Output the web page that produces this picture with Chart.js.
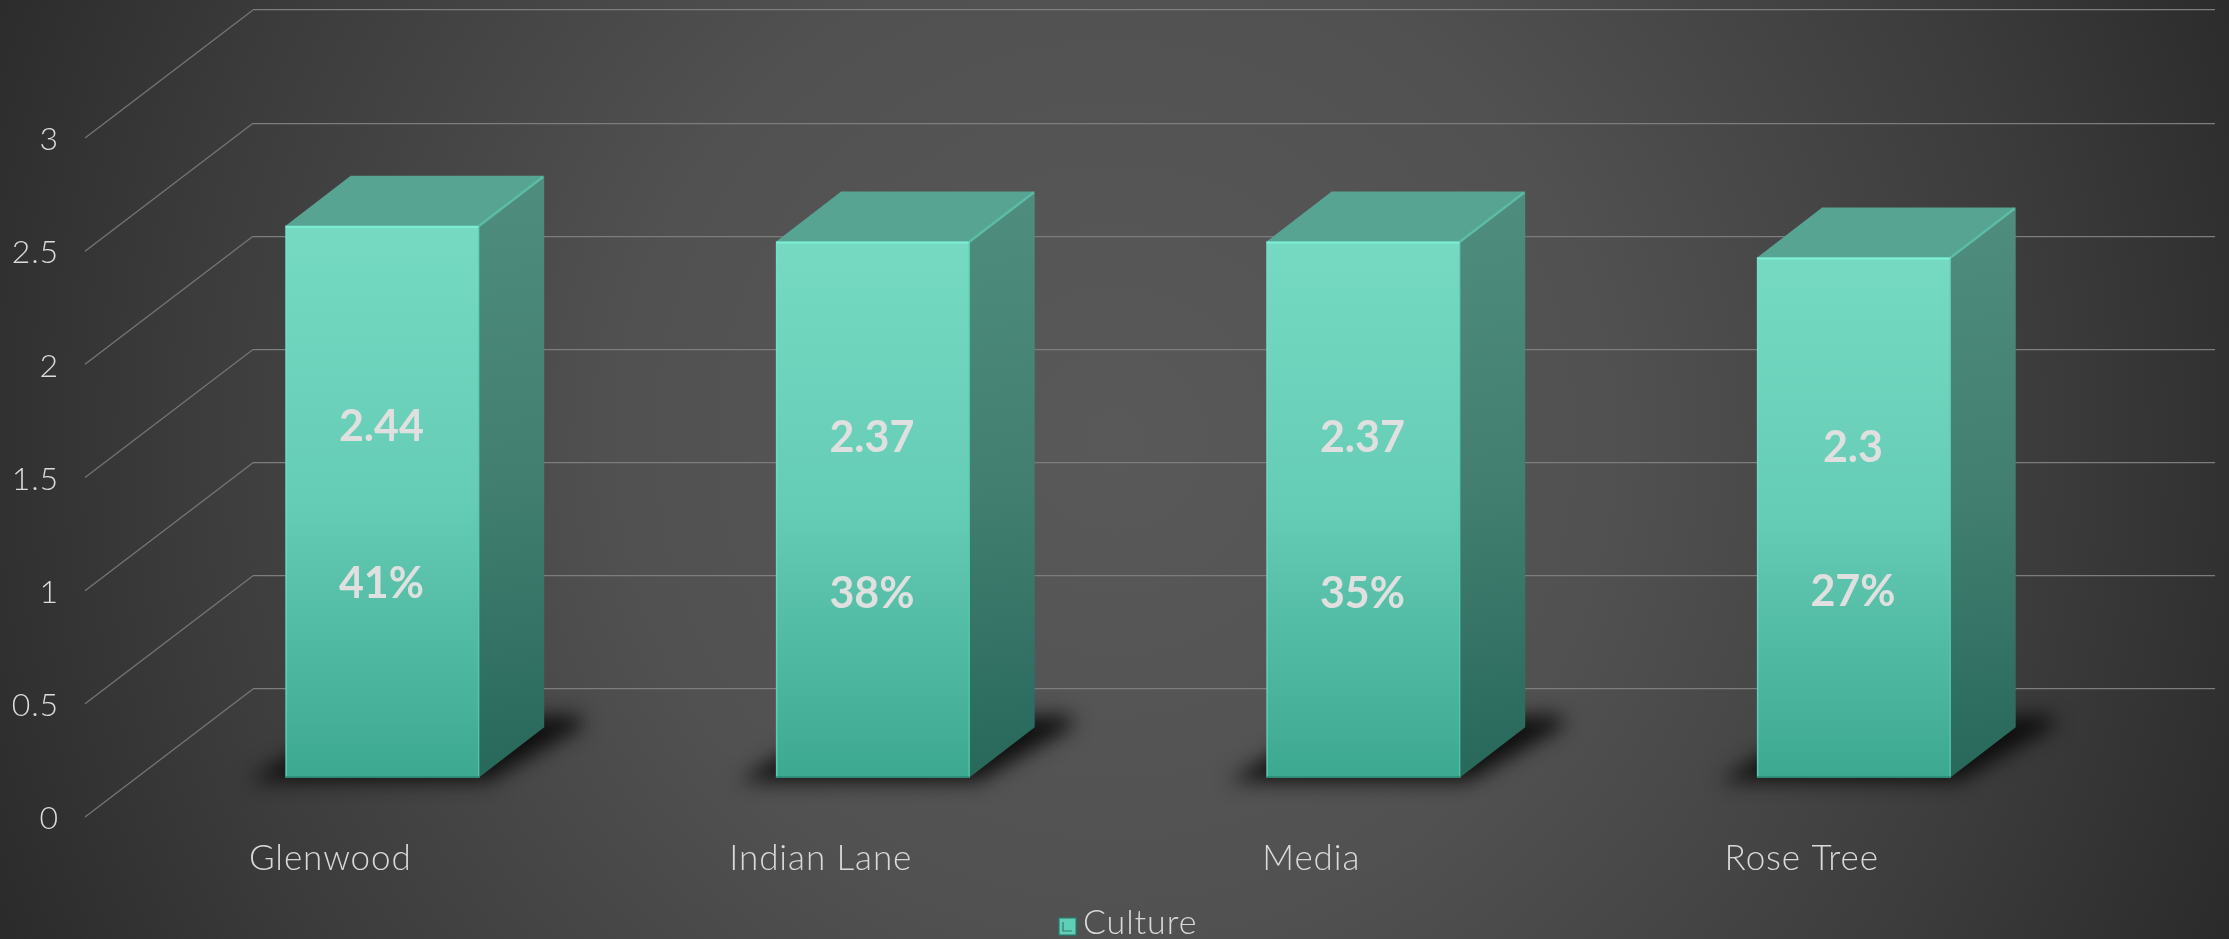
<!DOCTYPE html>
<html>
<head>
<meta charset="utf-8">
<style>html,body{margin:0;padding:0;background:#2b2b2b;overflow:hidden}canvas{display:block}</style>
<script src="https://cdn.jsdelivr.net/npm/chart.js@4"></script>
</head>
<body>
<canvas id="c" width="2229" height="939"></canvas>
<script>
const categories = ['Glenwood', 'Indian Lane', 'Media', 'Rose Tree'];
const seriesName = 'Culture';
const cultureValues = [2.44, 2.37, 2.37, 2.3];
const percentLabels = ['41%', '38%', '35%', '27%'];
const yTickLabels = {0:'0', 0.5:'0.5', 1:'1', 1.5:'1.5', 2:'2', 2.5:'2.5', 3:'3'};

const FONT = 'Lato, "Open Sans", sans-serif';
const SHIFT = {x:-115.8, y:89};      // bars stand part way into the floor
const DEPTH = {x:65, y:-50};         // oblique depth of each bar
const WALL = {x:-168, y:128};        // side wall of the box
const VALUE_AT = 0.64;               // value label height, share of the bar
const PCT_AT = [0.86, 0.817, 0.817, 0.826];
const SPACING = '0.9px';

function poly(ctx, pts){ctx.beginPath();pts.forEach((p,i)=>i?ctx.lineTo(p[0],p[1]):ctx.moveTo(p[0],p[1]));ctx.closePath();}
function seg(ctx,a,b,color,w){ctx.strokeStyle=color;ctx.lineWidth=w;ctx.beginPath();ctx.moveTo(a[0],a[1]);ctx.lineTo(b[0],b[1]);ctx.stroke();}

const scene = {
  id:'scene',
  afterLayout(chart){ chart.legend.left += 34; chart.legend.top += 11; chart.legend.bottom += 11; },
  beforeDraw(chart){
    const {ctx,width,height}=chart;
    ctx.letterSpacing=SPACING;
    const g=ctx.createRadialGradient(1115,440,0,1115,440,1230);
    g.addColorStop(0,'#595959');g.addColorStop(0.4,'#515151');g.addColorStop(0.75,'#3c3c3c');g.addColorStop(1,'#2a2a2a');
    ctx.save();ctx.fillStyle=g;ctx.fillRect(0,0,width,height);ctx.restore();
  },
  beforeDatasetsDraw(chart){
    const {ctx,scales:{y},chartArea:a}=chart;
    y.ticks.forEach(t=>{
      const py=y.getPixelForValue(t.value);
      seg(ctx,[a.left,py],[a.left+WALL.x,py+WALL.y],'#757575',1.3);
    });
    ctx.save();
    ctx.translate(SHIFT.x,SHIFT.y);
    chart.getDatasetMeta(0).data.forEach(b=>{
      const l=b.x-b.width/2,r=b.x+b.width/2,base=b.base;
      ctx.save();
      ctx.filter='blur(10px)';
      ctx.fillStyle='rgba(12,12,12,0.95)';
      poly(ctx,[[l-38,base+4],[r+8,base+4],[r+DEPTH.x+40,base+DEPTH.y-2],[r+DEPTH.x+34,base+DEPTH.y-12],[l+DEPTH.x,base+DEPTH.y-8]]);
      ctx.fill();
      ctx.restore();
    });
  },
  afterDatasetsDraw(chart){
    const {ctx,scales:{y}}=chart;
    chart.getDatasetMeta(0).data.forEach((b,i)=>{
      const l=b.x-b.width/2,r=b.x+b.width/2,t=b.y,base=b.base,dx=DEPTH.x,dy=DEPTH.y;
      const gs=ctx.createLinearGradient(r,t+dy,r+dx,base);
      gs.addColorStop(0,'#4f8d7f');gs.addColorStop(0.5,'#427f71');gs.addColorStop(1,'#27685a');
      ctx.fillStyle=gs;
      poly(ctx,[[r,t],[r+dx,t+dy],[r+dx,base+dy],[r,base]]);ctx.fill();
      ctx.fillStyle='#57a493';
      poly(ctx,[[l,t],[l+dx,t+dy],[r+dx,t+dy],[r,t]]);ctx.fill();
      seg(ctx,[r,t],[r+dx-1,t+dy+1],'#5cbca6',2.5);
      seg(ctx,[l,t+1],[r,t+1],'#7cf0d6',2);
      seg(ctx,[l+.5,t],[l+.5,base],'rgba(110,230,205,0.55)',1.5);
      seg(ctx,[r-.5,t],[r-.5,base],'rgba(85,205,180,0.7)',1.5);
      seg(ctx,[l,base-.5],[r,base-.5],'rgba(40,140,118,0.8)',1.5);
      ctx.fillStyle='#e0e0e0';
      ctx.font='bold 43px '+FONT;
      ctx.letterSpacing='0px';
      ctx.textAlign='center';ctx.textBaseline='middle';
      const v=cultureValues[i];
      ctx.fillText(String(v),b.x-1,y.getPixelForValue(v*VALUE_AT)+3);
      ctx.fillText(percentLabels[i],b.x-1,y.getPixelForValue(PCT_AT[i])+1);
    });
    ctx.restore();
    ctx.letterSpacing=SPACING;
  },
  afterDraw(chart){
    const {ctx,legend}=chart;
    const h=legend.legendHitBoxes[0];
    const x=h.left, yy=legend.top+(legend.bottom-legend.top-19)/2;
    ctx.save();
    ctx.fillStyle='#5fd0b7';ctx.fillRect(x,yy,19,19);
    ctx.strokeStyle='#2f6f62';ctx.lineWidth=1.5;ctx.strokeRect(x+.75,yy+.75,17.5,17.5);
    ctx.strokeStyle='#2f7a6a';ctx.lineWidth=1.2;
    ctx.beginPath();ctx.moveTo(x+5,yy+5);ctx.lineTo(x+5,yy+14);ctx.lineTo(x+14,yy+14);ctx.stroke();
    ctx.restore();
  }
};

const ctx = document.getElementById('c').getContext('2d');
new Chart(ctx,{
  type:'bar',
  data:{labels:categories,datasets:[{
    label:seriesName,
    data:cultureValues,
    clip:false,
    barThickness:193.5,
    borderWidth:0,
    backgroundColor(c){
      const chart=c.chart;
      if(!chart.chartArea||c.dataIndex===undefined) return '#5fd0b7';
      const y=chart.scales.y;
      const g=chart.ctx.createLinearGradient(0,y.getPixelForValue(cultureValues[c.dataIndex]),0,y.getPixelForValue(0));
      g.addColorStop(0,'#76dac2');g.addColorStop(0.5,'#65ccb5');g.addColorStop(1,'#3da890');
      return g;
    }
  }]},
  plugins:[scene],
  options:{
    responsive:false,
    animation:false,
    layout:{padding:{top:10,right:14,left:0,bottom:0}},
    plugins:{
      tooltip:{enabled:false},
      title:{display:false},
      legend:{
        display:true,position:'bottom',
        labels:{
          boxWidth:8,boxHeight:8,padding:3,color:'#d9d9d9',
          font:{family:FONT,size:34,weight:'300'},
          generateLabels(){return [{text:seriesName,fillStyle:'#5fd0b7',strokeStyle:'#5fd0b7',lineWidth:0,hidden:false,datasetIndex:0,fontColor:'#d9d9d9'}];}
        }
      }
    },
    scales:{
      x:{
        grid:{display:false},border:{display:false},
        ticks:{color:'#d9d9d9',font:{family:FONT,size:35,weight:'300'},padding:141,labelOffset:WALL.x,maxRotation:0,autoSkip:false},
        afterFit(s){s.height=939-689-s.chart.legend.height;s.paddingLeft=0;s.paddingRight=0;}
      },
      y:{
        min:0,max:3,
        grid:{color:'#7d7d7d',lineWidth:1.3,drawTicks:false},border:{display:false},
        ticks:{stepSize:0.5,color:'#dcdcdc',font:{family:FONT,size:32,weight:'300'},padding:194,labelOffset:WALL.y+2,
          callback:v=>yTickLabels[v]},
        afterFit(s){s.width=253;s.paddingTop=0;s.paddingBottom=0;}
      }
    }
  }
});
</script>
</body>
</html>
